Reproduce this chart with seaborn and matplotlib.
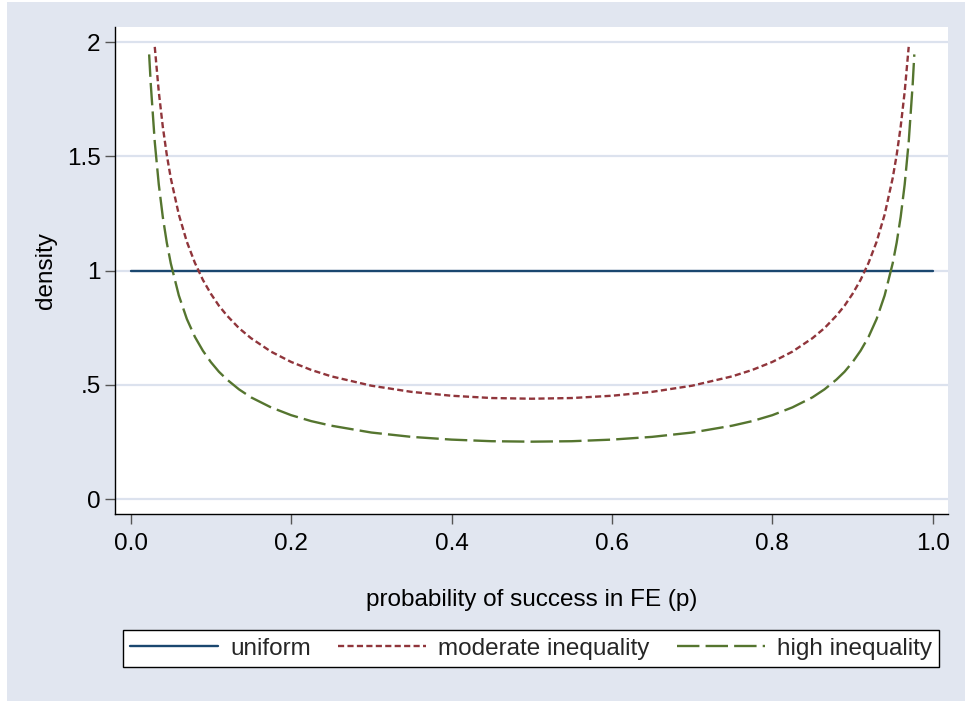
import matplotlib
matplotlib.use("Agg")
import matplotlib.pyplot as plt
from matplotlib.patches import Rectangle
from matplotlib.lines import Line2D
import seaborn as sns
import pandas as pd

# ---- data ----
uniform_x = [0.0, 1.0]
uniform_y = [1.0, 1.0]

moderate_x = [0.03, 0.035, 0.04, 0.045, 0.05, 0.06, 0.07, 0.08, 0.09, 0.10, 0.11, 0.12, 0.135, 0.15,
              0.175, 0.2, 0.225, 0.25, 0.3, 0.35, 0.4, 0.45, 0.5, 0.55, 0.6, 0.65, 0.7, 0.75, 0.775, 0.8,
              0.825, 0.85, 0.865, 0.88, 0.89, 0.9, 0.91, 0.92, 0.93, 0.94, 0.95, 0.955, 0.96, 0.965, 0.97]
moderate_y = [1.979, 1.783, 1.630, 1.506, 1.404, 1.245, 1.126, 1.034, 0.959, 0.898, 0.846, 0.803, 0.748, 0.704,
              0.645, 0.600, 0.565, 0.537, 0.496, 0.469, 0.452, 0.442, 0.439, 0.442, 0.452, 0.469, 0.496, 0.537, 0.565, 0.600,
              0.645, 0.704, 0.748, 0.803, 0.846, 0.898, 0.959, 1.034, 1.126, 1.245, 1.404, 1.506, 1.630, 1.783, 1.979]

high_x = [0.023, 0.025, 0.03, 0.035, 0.04, 0.045, 0.05, 0.06, 0.07, 0.08, 0.09, 0.10, 0.11, 0.12, 0.135, 0.15,
          0.175, 0.2, 0.225, 0.25, 0.3, 0.35, 0.4, 0.45, 0.5, 0.55, 0.6, 0.65, 0.7, 0.75, 0.775, 0.8,
          0.825, 0.85, 0.865, 0.88, 0.89, 0.9, 0.91, 0.92, 0.93, 0.94, 0.95, 0.955, 0.96, 0.965, 0.97, 0.975, 0.977]
high_y = [1.946, 1.817, 1.563, 1.377, 1.235, 1.122, 1.031, 0.891, 0.788, 0.710, 0.649, 0.599, 0.557, 0.523, 0.480, 0.445,
          0.401, 0.367, 0.341, 0.321, 0.291, 0.272, 0.260, 0.253, 0.251, 0.253, 0.260, 0.272, 0.291, 0.321, 0.341, 0.367,
          0.401, 0.445, 0.480, 0.523, 0.557, 0.599, 0.649, 0.710, 0.788, 0.891, 1.031, 1.122, 1.235, 1.377, 1.563, 1.817, 1.946]

series_names = ["uniform", "moderate inequality", "high inequality"]
x_ticks = [0.0, 0.2, 0.4, 0.6, 0.8, 1.0]
x_tick_labels = ["0.0", "0.2", "0.4", "0.6", "0.8", "1.0"]
y_ticks = [0, 0.5, 1, 1.5, 2]
y_tick_labels = ["0", ".5", "1", "1.5", "2"]

df = pd.concat([
    pd.DataFrame({"p": uniform_x, "density": uniform_y, "series": series_names[0]}),
    pd.DataFrame({"p": moderate_x, "density": moderate_y, "series": series_names[1]}),
    pd.DataFrame({"p": high_x, "density": high_y, "series": series_names[2]}),
])

# ---- style ----
sns.set_theme(style="white")
plt.rcParams["font.family"] = ["Liberation Sans", "DejaVu Sans"]

FS = 17.5
BG = "#E1E6F0"
GRID = "#DCE2EE"
colors = {"uniform": "#1A476F", "moderate inequality": "#90353B", "high inequality": "#55752F"}
dashes = {"uniform": "", "moderate inequality": (2.6, 1.4), "high inequality": (9.5, 2.6)}

fig = plt.figure(figsize=(9.65, 7.01), dpi=100, facecolor="white")
fig.patches.append(Rectangle((7 / 965, 0), 1 - 7 / 965, 1 - 2 / 701, transform=fig.transFigure,
                             facecolor=BG, edgecolor="none", zorder=-10))

ax = fig.add_axes([115.3 / 965, 1 - 514 / 701, (948 - 115.3) / 965, (514 - 27) / 701])
ax.set_facecolor("white")

sns.lineplot(data=df, x="p", y="density", hue="series", style="series",
             palette=colors, dashes=dashes, hue_order=series_names, style_order=series_names,
             estimator=None, sort=False, linewidth=1.7, ax=ax, legend=False, zorder=3)

ax.set_xlim(-0.0192, 1.019)
ax.set_ylim(-0.0656, 2.066)
ax.set_xticks(x_ticks)
ax.set_xticklabels(x_tick_labels)
ax.set_yticks(y_ticks)
ax.set_yticklabels(y_tick_labels)

for yv in y_ticks:
    ax.axhline(yv, color=GRID, lw=1.6, zorder=1)

for s in ["top", "right"]:
    ax.spines[s].set_visible(False)
for s in ["left", "bottom"]:
    ax.spines[s].set_color("black")
    ax.spines[s].set_linewidth(1.0)

ax.tick_params(axis="both", which="major", direction="out", length=7.5, width=1.0,
               color="#555555", labelsize=FS, labelcolor="black",
               left=True, bottom=True)
ax.tick_params(axis="x", pad=6)
ax.tick_params(axis="y", pad=3)

ax.set_xlabel("probability of success in FE (p)", fontsize=FS, color="black")
ax.set_ylabel("density", fontsize=FS, color="black")
ax.xaxis.set_label_coords(0.5, -(600 - 514) / (514 - 27), transform=ax.transAxes)
ax.yaxis.set_label_coords(-(115.3 - 46) / (948 - 115.3), 0.5, transform=ax.transAxes)
ax.xaxis.label.set_va("center")
ax.yaxis.label.set_va("center")

# legend
handles = [Line2D([], [], color=colors[n], lw=1.7,
                  linestyle="-" if dashes[n] == "" else (0, dashes[n])) for n in series_names]
leg = fig.legend(handles, series_names, loc="center", ncol=3, mode="expand",
                 bbox_to_anchor=(123 / 965, 1 - 671 / 701, (939 - 123) / 965, 45 / 701),
                 bbox_transform=fig.transFigure, frameon=True, fancybox=False,
                 fontsize=FS, handlelength=3.6, handletextpad=0.5, borderpad=0.3,
                 borderaxespad=0, columnspacing=0.8)
frame = leg.get_frame()
frame.set_edgecolor("black")
frame.set_linewidth(1.0)
frame.set_facecolor("white")
frame.set_alpha(1)

fig.savefig("out.png", dpi=100, facecolor=fig.get_facecolor())
